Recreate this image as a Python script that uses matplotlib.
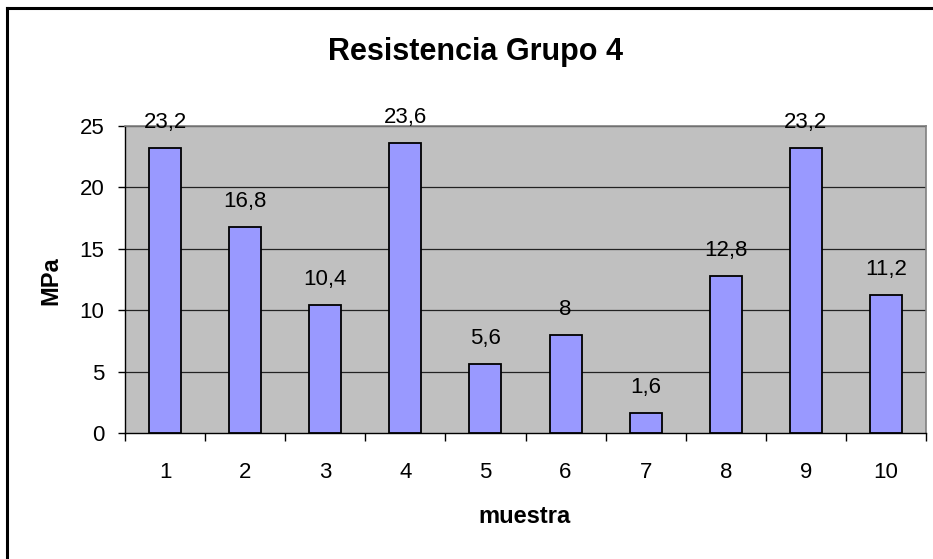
import matplotlib.pyplot as plt
import matplotlib.lines as mlines

categories = ["1", "2", "3", "4", "5", "6", "7", "8", "9", "10"]
values = [23.2, 16.8, 10.4, 23.6, 5.6, 8, 1.6, 12.8, 23.2, 11.2]
labels = ["23,2", "16,8", "10,4", "23,6", "5,6", "8", "1,6", "12,8", "23,2", "11,2"]
yticks = [0, 5, 10, 15, 20, 25]

plt.rcParams['font.family'] = ['Liberation Sans', 'DejaVu Sans']

W, H = 933, 559
fig = plt.figure(figsize=(W / 100, H / 100), dpi=100)
fig.patch.set_facecolor('white')

# axes in pixel coords
left, right, top, bottom = 125, 926, 126, 433
ax = fig.add_axes([left / W, 1 - bottom / H, (right - left) / W, (bottom - top) / H])
ax.set_facecolor('#C0C0C0')

x = list(range(len(categories)))
ax.bar(x, values, width=0.4, color='#9999FF', edgecolor='black', linewidth=1.3, zorder=3)

ax.set_xlim(-0.5, len(categories) - 0.5)
ax.set_ylim(0, 25)
ax.set_yticks(yticks)
ax.set_yticklabels([str(t) for t in yticks], fontsize=16)
ax.set_xticks(x)
ax.set_xticklabels(categories, fontsize=16)
ax.tick_params(axis='x', length=0, pad=21)
ax.tick_params(axis='y', length=5, width=1, direction='out', pad=10)
# minor x ticks between categories
ax.set_xticks([i + 0.5 for i in range(-1, len(categories))], minor=True)
ax.tick_params(axis='x', which='minor', length=6, width=1, direction='out')

for yv in yticks[1:]:
    ax.axhline(yv, color='#222222', linewidth=0.9, zorder=1)

for sp in ['top', 'right']:
    ax.spines[sp].set_color('#808080')
    ax.spines[sp].set_linewidth(1.2)
for sp in ['left', 'bottom']:
    ax.spines[sp].set_color('black')
    ax.spines[sp].set_linewidth(1.0)

for xi, v, lab in zip(x, values, labels):
    ax.annotate(lab, (xi, v), xytext=(0, 20), textcoords='offset pixels',
                ha='center', va='baseline', fontsize=16, annotation_clip=False)

fig.text(51 / W, 1 - 281 / H, 'MPa', rotation=90, ha='center', va='center',
         fontsize=17, fontweight='bold')
fig.text(525 / W, 1 - 523 / H, 'muestra', ha='center', va='baseline',
         fontsize=17, fontweight='bold')

fig.text(475.5 / W, 1 - 60 / H, 'Resistencia Grupo 4', ha='center', va='baseline',
         fontsize=22, fontweight='bold')

# outer frame (left and top visible)
fig.add_artist(mlines.Line2D([7.5 / W, 7.5 / W], [0, 1 - 7.5 / H], color='black', linewidth=2.2,
                             transform=fig.transFigure))
fig.add_artist(mlines.Line2D([6.5 / W, 1], [1 - 7.5 / H, 1 - 7.5 / H], color='black', linewidth=2.2,
                             transform=fig.transFigure))

fig.savefig('out.png', dpi=100, facecolor='white')
